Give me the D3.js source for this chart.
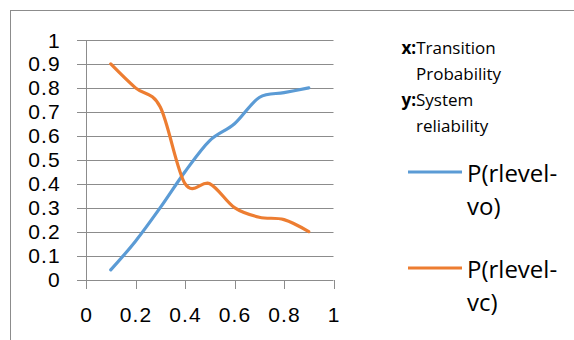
<!DOCTYPE html>
<html><head><meta charset="utf-8">
<script src="https://cdn.jsdelivr.net/npm/d3@7"></script>
<style>body{margin:0;background:#fff}svg{display:block}</style>
</head><body>
<svg id="c" width="574" height="340"></svg>
<script>
const xValues = [0.1,0.2,0.3,0.4,0.5,0.6,0.7,0.8,0.9];
const voValues = [0.04,0.16,0.30,0.45,0.58,0.65,0.76,0.78,0.80];
const vcValues = [0.90,0.80,0.72,0.40,0.40,0.30,0.26,0.25,0.20];
const xTicks = [0,0.2,0.4,0.6,0.8,1];
const yTicks = [0,0.1,0.2,0.3,0.4,0.5,0.6,0.7,0.8,0.9,1];
const seriesNames = ["P(rlevel-vo)","P(rlevel-vc)"];
const axisNote = [["x:","Transition"],["","Probability"],["y:","System"],["","reliability"]];

const svg = d3.select("#c");
const font = "'Open Sans', sans-serif";
const tickFont = "'Liberation Sans', Arial, sans-serif";
const grey = "#8c8c8c";
svg.append("rect").attr("x",10.5).attr("y",10.5).attr("width",700).attr("height",400)
  .attr("fill","none").attr("stroke",grey);

const x = d3.scaleLinear().domain([0,1]).range([86,333.5]);
const y = d3.scaleLinear().domain([0,1]).range([279.5,40]);

// gridlines
svg.append("g").selectAll("line").data(yTicks).join("line")
  .attr("x1",77).attr("x2",x(1)).attr("y1",d=>Math.round(y(d))+0.5).attr("y2",d=>Math.round(y(d))+0.5)
  .attr("stroke",grey).attr("stroke-width",1);
// y axis line
svg.append("line").attr("x1",86.5).attr("x2",86.5).attr("y1",Math.round(y(1))).attr("y2",Math.round(y(0))+9)
  .attr("stroke",grey);
// x ticks
svg.append("g").selectAll("line").data(xTicks).join("line")
  .attr("x1",d=>Math.round(x(d))+0.5).attr("x2",d=>Math.round(x(d))+0.5)
  .attr("y1",Math.round(y(0))).attr("y2",Math.round(y(0))+9).attr("stroke",grey);

// y labels
svg.append("g").selectAll("text").data(yTicks).join("text")
  .attr("x",61).attr("y",d=>y(d)+7.5).attr("text-anchor","end").attr("letter-spacing",1.2)
  .attr("font-family",tickFont).attr("font-size",21).attr("fill","#000").text(d=>d);
// x labels
svg.append("g").selectAll("text").data(xTicks).join("text")
  .attr("x",d=>x(d)+0.6).attr("y",321.5).attr("text-anchor","middle").attr("letter-spacing",1.2)
  .attr("font-family",tickFont).attr("font-size",21).attr("fill","#000").text(d=>d);

const line = d3.line().curve(d3.curveCardinal).x((d,i)=>x(xValues[i])).y(d=>y(d));
const colors = ["#5B9BD5","#ED7D31"];
[voValues,vcValues].forEach((s,i)=>{
  svg.append("path").attr("d",line(s)).attr("fill","none").attr("stroke",colors[i])
    .attr("stroke-width",3.2).attr("stroke-linecap","round").attr("stroke-linejoin","round");
});

// axis note
const noteY = [54,79.5,106,131.5];
axisNote.forEach((p,i)=>{
  const t = svg.append("text").attr("x",p[0]?401.5:416).attr("y",noteY[i])
    .attr("font-family",font).attr("font-size",17).attr("fill","#000");
  if(p[0]) t.append("tspan").attr("font-weight","bold").text(p[0]);
  t.append("tspan").text(p[1]);
});

// legend
const legY = [172,268];
seriesNames.forEach((n,i)=>{
  svg.append("line").attr("x1",408).attr("x2",462).attr("y1",legY[i]).attr("y2",legY[i])
    .attr("stroke",colors[i]).attr("stroke-width",3.2);
  const parts = [n.slice(0,9), n.slice(9)];
  parts.forEach((p,j)=>{
    svg.append("text").attr("x",467).attr("y",legY[i]+10+j*33)
      .attr("font-family",font).attr("font-size",24).attr("fill","#000").text(p);
  });
});
</script>
</body></html>
